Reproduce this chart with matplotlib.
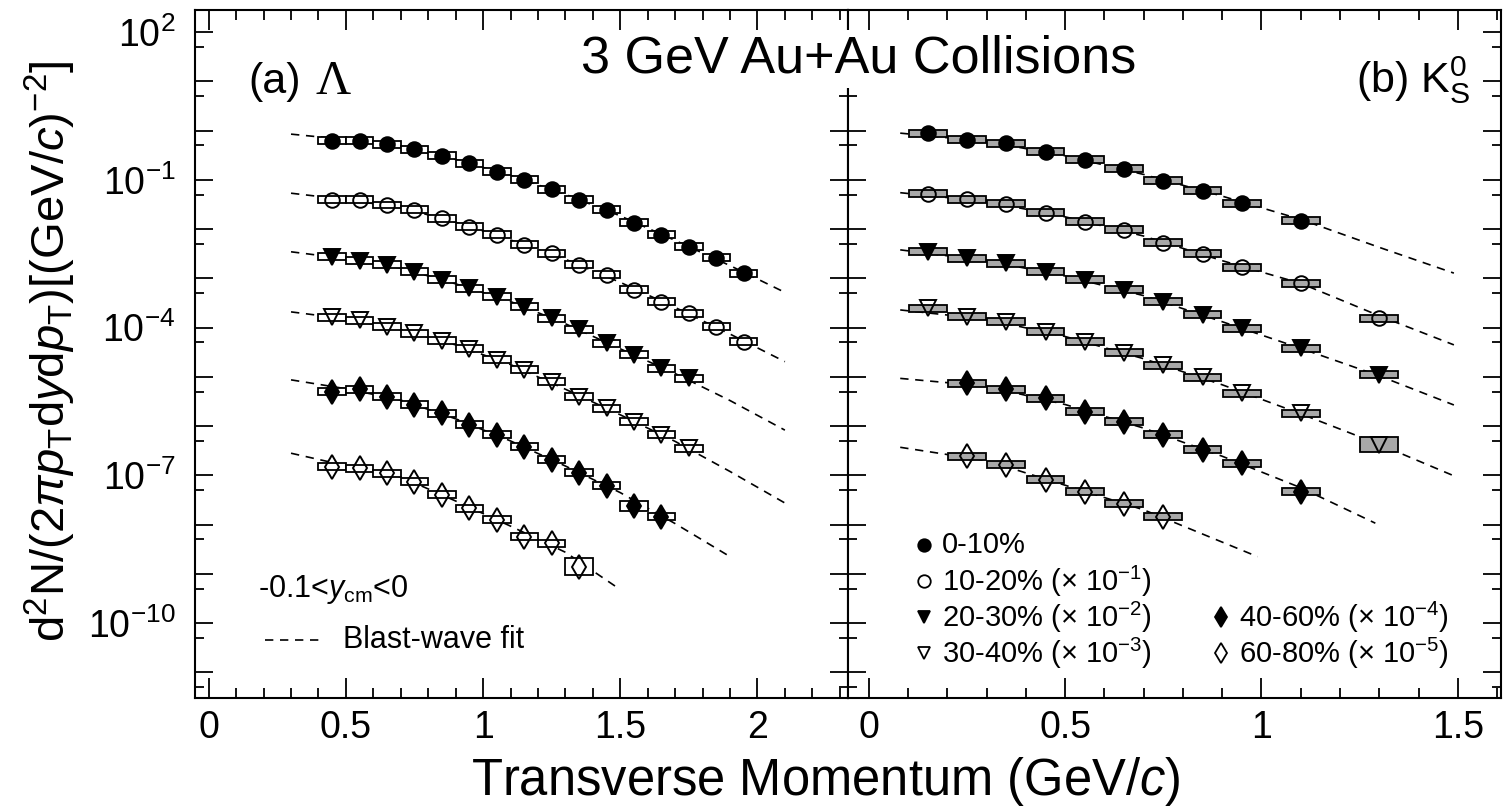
import numpy as np
import matplotlib
matplotlib.use("Agg")
import matplotlib.pyplot as plt
from matplotlib.patches import Rectangle
from matplotlib.ticker import LogLocator, MultipleLocator, FuncFormatter, NullFormatter

plt.rcParams['font.family'] = ['Liberation Sans', 'DejaVu Sans']
plt.rcParams['mathtext.fontset'] = 'custom'
plt.rcParams['mathtext.rm'] = 'Liberation Sans'
plt.rcParams['mathtext.it'] = 'Liberation Sans:italic'
plt.rcParams['mathtext.bf'] = 'Liberation Sans:bold'

# centrality classes and the power of ten each spectrum is scaled by
cent_labels = ["0-10%", "10-20%", "20-30%", "30-40%", "40-60%", "60-80%"]
scale_exp = [0, -1, -2, -3, -4, -5]

# ---- Lambda spectra (unscaled yields) ----
lam_pt = [0.45, 0.55, 0.65, 0.75, 0.85, 0.95, 1.05, 1.15, 1.25, 1.35,
          1.45, 1.55, 1.65, 1.75, 1.85, 1.95]
lam_0_10 = [0.628, 0.628, 0.531, 0.420, 0.307, 0.218, 0.148, 0.100, 0.0647, 0.0393,
            0.0246, 0.0136, 0.00764, 0.00443, 0.00265, 0.00128]
lam_10_20 = [0.393, 0.393, 0.310, 0.246, 0.167, 0.113, 0.0764, 0.0479, 0.0325, 0.0188,
             0.0118, 0.00585, 0.00338, 0.00197, 0.00105, 0.000521]
lam_20_30 = [0.277, 0.230, 0.188, 0.137, 0.0933, 0.0632, 0.0428, 0.0268, 0.0156, 0.00931,
             0.00484, 0.00280, 0.00150, 0.000942]
lam_30_40 = [0.162, 0.142, 0.105, 0.0773, 0.0540, 0.0371, 0.0222, 0.0139, 0.00804, 0.00399,
             0.00232, 0.00124, 0.000665, 0.000357]
lam_40_60 = [0.0504, 0.0564, 0.0399, 0.0270, 0.0183, 0.0106, 0.00665, 0.00385, 0.00207, 0.00113,
             0.000614, 0.000241, 0.000146]
lam_60_80 = [0.0151, 0.0140, 0.0111, 0.0075, 0.00403, 0.00216, 0.00125, 0.000574, 0.000422, 0.000141]

# blast-wave fit curves for Lambda
lam_fit_pt = [0.3, 0.5, 0.7, 0.9, 1.1, 1.3, 1.5, 1.7, 1.9, 2.1]
lam_fit_0_10 = [0.85, 0.66, 0.48, 0.26, 0.123, 0.051, 0.0186, 0.0059, 0.00182, 0.00052]
lam_fit_10_20 = [0.537, 0.398, 0.275, 0.138, 0.0603, 0.0245, 0.00832, 0.00257, 0.000741, 0.000204]
lam_fit_20_30 = [0.347, 0.251, 0.162, 0.0776, 0.0339, 0.0120, 0.00372, 0.00117, 0.000331, 8.3e-5]
lam_fit_30_40 = [0.209, 0.151, 0.0912, 0.0447, 0.0178, 0.00562, 0.0017, 0.00049, 0.00012, 2.75e-5]
lam_fit_40_60 = [0.0871, 0.0575, 0.0339, 0.0141, 0.00501, 0.00155, 0.000447, 0.000105, 2.24e-5]
lam_fit_60_80 = [0.0282, 0.0158, 0.00933, 0.00302, 0.000933, 0.000275, 4.8e-5]

# ---- K0s spectra (unscaled yields) ----
k0s_pt = [0.15, 0.25, 0.35, 0.45, 0.55, 0.65, 0.75, 0.85, 0.95, 1.1, 1.3]
k0s_pt_periph = [0.25, 0.35, 0.45, 0.55, 0.65, 0.75, 0.85, 0.95, 1.1]
k0s_0_10 = [0.887, 0.649, 0.556, 0.376, 0.255, 0.167, 0.0955, 0.0598, 0.0337, 0.0149]
k0s_10_20 = [0.520, 0.406, 0.326, 0.217, 0.142, 0.0966, 0.0533, 0.0315, 0.0169, 0.0080, 0.00156]
k0s_20_30 = [0.350, 0.257, 0.204, 0.137, 0.0933, 0.0585, 0.0338, 0.0182, 0.00975, 0.00383, 0.0011]
k0s_30_40 = [0.248, 0.168, 0.133, 0.0832, 0.0521, 0.0310, 0.0173, 0.0098, 0.00468, 0.00184, 0.000417]
k0s_40_60 = [0.0746, 0.0564, 0.0370, 0.0198, 0.0124, 0.00665, 0.0033, 0.00177, 0.00047]
k0s_60_80 = [0.0242, 0.0164, 0.00813, 0.0047, 0.00265, 0.00146]

# blast-wave fit curves for K0s
k0s_fit_pt = [0.08, 0.3, 0.5, 0.7, 0.9, 1.1, 1.3, 1.49]
k0s_fit_pt_40_60 = [0.08, 0.3, 0.5, 0.7, 0.9, 1.1, 1.29]
k0s_fit_pt_60_80 = [0.08, 0.3, 0.5, 0.7, 0.99]
k0s_fit_0_10 = [0.891, 0.603, 0.309, 0.129, 0.0468, 0.0158, 0.00427, 0.00128]
k0s_fit_10_20 = [0.550, 0.363, 0.178, 0.0724, 0.0229, 0.00794, 0.00174, 0.000447]
k0s_fit_20_30 = [0.380, 0.229, 0.112, 0.0447, 0.0132, 0.0038, 0.00105, 0.000269]
k0s_fit_30_40 = [0.229, 0.148, 0.0661, 0.0234, 0.00692, 0.00178, 0.000427, 9.8e-5]
k0s_fit_40_60 = [0.0933, 0.0646, 0.0275, 0.00912, 0.00245, 0.000562, 0.000107]
k0s_fit_60_80 = [0.0372, 0.020, 0.00631, 0.0020, 0.000224]

# systematic boxes: half height in decades, a few points have larger ones
box_dex = 0.07
big_boxes = {("lam", 4, 11): 0.10, ("lam", 5, 9): 0.17, ("k0s", 3, 10): 0.15}

marker_style = [
    dict(marker='o', mfc='k', ms=10.5),
    dict(marker='o', mfc='none', ms=10.5),
    dict(marker='v', mfc='k', ms=11),
    dict(marker='v', mfc='none', ms=11),
    dict(marker='d', mfc='k', ms=12.5),
    dict(marker='d', mfc='none', ms=12.5),
]

W, H = 1506, 811
left, mid, right, bottom, top = 195, 848, 1501, 698, 10

fig = plt.figure(figsize=(W / 100, H / 100), dpi=100)
ax1 = fig.add_axes([left / W, (H - bottom) / H, (mid - left) / W, (bottom - top) / H])
ax2 = fig.add_axes([mid / W, (H - bottom) / H, (right - mid) / W, (bottom - top) / H])


def decade_label(v, pos):
    e = int(round(np.log10(v)))
    if (e - 2) % 3 == 0:
        return r'$10^{%d}$' % e
    return ''


def draw_panel(ax, tag, pts, ys, fit_pts, fit_ys, box_w, box_fc):
    for i in range(6):
        s = 10.0 ** scale_exp[i]
        ax.plot(fit_pts[i], np.array(fit_ys[i]) * s, color='k', lw=1.2,
                ls=(0, (5, 4)), zorder=1)
        for j, (x, y) in enumerate(zip(pts[i], ys[i])):
            d = big_boxes.get((tag, i, j), box_dex)
            yy = y * s
            ax.add_patch(Rectangle((x - box_w / 2, yy * 10 ** -d), box_w,
                                   yy * (10 ** d - 10 ** -d), fc=box_fc, ec='k',
                                   lw=1.3, zorder=2))
        ax.plot(pts[i], np.array(ys[i]) * s, ls='none', mec='k', mew=1.4,
                zorder=3, **marker_style[i])


lam_ys = [lam_0_10, lam_10_20, lam_20_30, lam_30_40, lam_40_60, lam_60_80]
lam_pts = [lam_pt[:len(y)] for y in lam_ys]
lam_fits = [lam_fit_0_10, lam_fit_10_20, lam_fit_20_30, lam_fit_30_40, lam_fit_40_60, lam_fit_60_80]
lam_fit_pts = [lam_fit_pt[:len(y)] for y in lam_fits]
draw_panel(ax1, "lam", lam_pts, lam_ys, lam_fit_pts, lam_fits, 0.1, 'white')

k0s_ys = [k0s_0_10, k0s_10_20, k0s_20_30, k0s_30_40, k0s_40_60, k0s_60_80]
k0s_pts = [k0s_pt[:10], k0s_pt, k0s_pt, k0s_pt, k0s_pt_periph, k0s_pt_periph[:6]]
k0s_fits = [k0s_fit_0_10, k0s_fit_10_20, k0s_fit_20_30, k0s_fit_30_40, k0s_fit_40_60, k0s_fit_60_80]
k0s_fit_pts = [k0s_fit_pt, k0s_fit_pt, k0s_fit_pt, k0s_fit_pt, k0s_fit_pt_40_60, k0s_fit_pt_60_80]
draw_panel(ax2, "k0s", k0s_pts, k0s_ys, k0s_fit_pts, k0s_fits, 0.096, '#a8a8a8')

ax1.set_xlim(-0.05, 2.33)
ax2.set_xlim(-0.053, 1.61)
for ax in (ax1, ax2):
    ax.set_yscale('log')
    ax.set_ylim(10 ** -11.52, 10 ** 2.45)
    ax.yaxis.set_major_locator(LogLocator(base=10, subs=(1.0,), numticks=40))
    ax.yaxis.set_minor_locator(LogLocator(base=10, subs=(5.0,), numticks=40))
    ax.yaxis.set_minor_formatter(NullFormatter())
    ax.xaxis.set_major_locator(MultipleLocator(0.5))
    ax.xaxis.set_minor_locator(MultipleLocator(0.1))
    ax.xaxis.set_major_formatter(FuncFormatter(lambda v, p: '%g' % v))
    ax.tick_params(which='both', direction='in', top=True, right=True, width=1.3,
                   labelsize=27)
    ax.tick_params(axis='x', which='major', length=14.5, pad=9)
    ax.tick_params(axis='x', which='minor', length=7)
    ax.tick_params(axis='y', which='major', length=13, pad=14)
    ax.tick_params(axis='y', which='minor', length=6.5)
    for sp in ax.spines.values():
        sp.set_linewidth(1.5)
ax1.yaxis.set_major_formatter(FuncFormatter(decade_label))
ax2.yaxis.set_major_formatter(NullFormatter())


def ax_frac(ax, px, py):
    b = ax.get_position()
    return (px / W - b.x0) / b.width, ((H - py) / H - b.y0) / b.height


# panel labels and title
ax1.text(*ax_frac(ax1, 248, 82), '(a)', fontsize=31, va='center', transform=ax1.transAxes)
ax1.text(*ax_frac(ax1, 316, 82), 'Λ', fontsize=35, va='center', family='Liberation Serif',
         transform=ax1.transAxes)
ax2.text(*ax_frac(ax2, 1470, 80), r'(b) K$_{\rm S}^{0}$', fontsize=31, va='center', ha='right',
         transform=ax2.transAxes)
fig.text(859 / W, 1 - 59 / H, '3 GeV Au+Au Collisions', fontsize=37.5, ha='center',
         va='center', bbox=dict(fc='white', ec='none', pad=3))

# rapidity window and fit key
ax1.text(*ax_frac(ax1, 258, 590), r'-0.1<$y_{\rm cm}$<0', fontsize=22, va='center',
         transform=ax1.transAxes)
x0, yk = ax_frac(ax1, 265, 640)
x1, _ = ax_frac(ax1, 323, 640)
ax1.plot([x0, x1], [yk, yk], color='k', lw=1.2, ls=(0, (5, 4)), transform=ax1.transAxes)
ax1.text(*ax_frac(ax1, 343, 640), 'Blast-wave fit', fontsize=22, va='center',
         transform=ax1.transAxes)

# centrality legend
legend_pos = [(924, 545), (924, 581), (924, 617), (924, 653), (1221, 617), (1221, 653)]
legend_ms = [9, 9, 8.5, 8.5, 10.5, 10.5]
for i, (px, py) in enumerate(legend_pos):
    mx, my = ax_frac(ax2, px, py)
    st = dict(marker_style[i])
    st['ms'] = legend_ms[i]
    ax2.plot([mx], [my], ls='none', mec='k', mew=1.3, transform=ax2.transAxes,
             clip_on=False, **st)
    lab = cent_labels[i]
    if scale_exp[i] != 0:
        lab += r' (× 10$^{%d}$)' % scale_exp[i]
    tx, ty = ax_frac(ax2, px + 18, py)
    ax2.text(tx, ty, lab, fontsize=21, va='center', transform=ax2.transAxes)

# axis titles
fig.text(826 / W, 1 - 781 / H, r'Transverse Momentum (GeV/$c$)', fontsize=36.5,
         ha='center', va='center')
fig.text(50 / W, 1 - 351 / H,
         r'd$^{2}$N/(2$\pi$$p_{\rm T}$d$y$d$p_{\rm T}$)[(GeV/$c$)$^{-2}$]',
         fontsize=34, rotation=90, ha='center', va='center')

fig.savefig('out.png', dpi=100)
